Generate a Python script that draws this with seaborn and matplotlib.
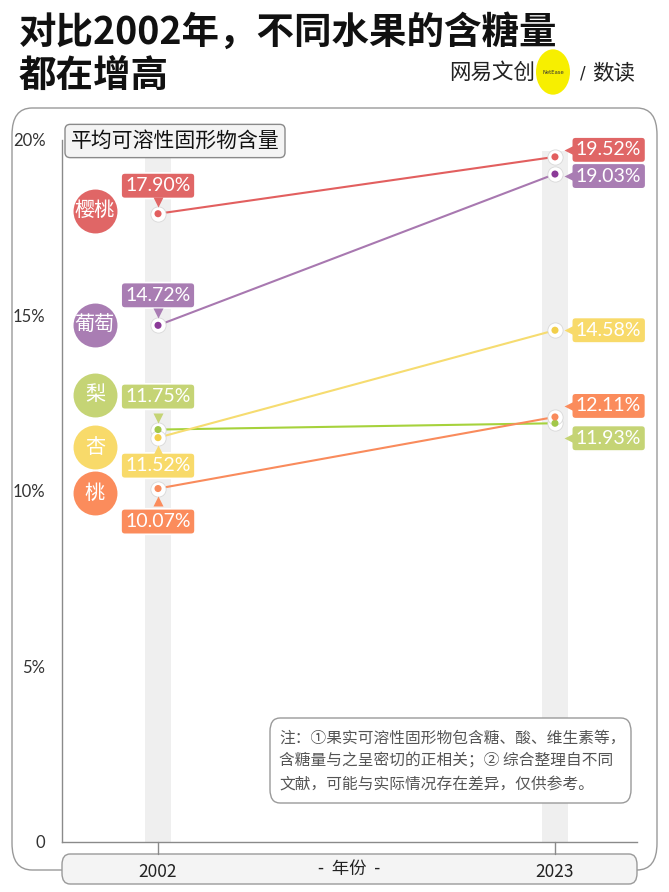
import pandas as pd
import seaborn as sns
import matplotlib.pyplot as plt
from matplotlib.patches import FancyBboxPatch, Circle
from matplotlib.transforms import offset_copy

# data
fruits = ['樱桃', '葡萄', '梨', '杏', '桃']
years = [2002, 2023]
v2002 = [17.90, 14.72, 11.75, 11.52, 10.07]
v2023 = [19.52, 19.03, 11.93, 14.58, 12.11]
colors = ['#e06666', '#a97db3', '#c5d475', '#f8da6a', '#fb8c5c']
line_colors = ['#e25f5f', '#a878b0', '#a6d23c', '#f6dc70', '#f98b5c']
dot_colors = ['#e25f5f', '#8b3a98', '#a2c84a', '#f2cf4a', '#f98b5c']
yticks = [0, 5, 10, 15, 20]
ytick_labels = ['0', '5%', '10%', '15%', '20%']

# layout of labels (pixel offsets / badge heights)
lab2002_dy = [28, 30, 33, -28, -33]
lab2023_dy = [7, -2, -15, 0, 11]
badge_y = [17.98, 14.73, 12.74, 11.25, 9.94]

df = pd.DataFrame({
    'fruit': fruits * 2,
    'year': [2002] * 5 + [2023] * 5,
    'value': v2002 + v2023,
})

sns.set_theme(style='white')
plt.rcParams['font.family'] = ['Noto Sans CJK SC', 'DejaVu Sans']

W, H = 669, 892
fig = plt.figure(figsize=(6.69, 8.92), dpi=100)


def fx(x):
    return x / W


def fy(y):
    return 1 - y / H


ax = fig.add_axes([fx(62), fy(842), (637 - 62) / W, (842 - 140) / H])
ax.set_xlim(1996.92, 2027.34)
ax.set_ylim(0, 20)
ax.patch.set_alpha(0)

# outer frame
frame = FancyBboxPatch((fx(12), fy(870)), (657 - 12) / W, (870 - 108) / H,
                       boxstyle='round,pad=0,rounding_size=0.03',
                       transform=fig.transFigure, fc='white', ec='#9a9a9a',
                       lw=1, zorder=-5)
fig.patches.append(frame)

# grey bands
for yr in years:
    ax.axvspan(yr - 0.69, yr + 0.69, ymax=0.985, color='#efefef', lw=0, zorder=0)

sns.lineplot(data=df, x='year', y='value', hue='fruit', palette=line_colors,
             hue_order=fruits, legend=False, lw=1.5, ax=ax, zorder=2)
sns.scatterplot(data=df, x='year', y='value', color='white', s=120,
                edgecolor='#d8d8d8', linewidth=0.6, ax=ax, zorder=3)
sns.scatterplot(data=df, x='year', y='value', hue='fruit', palette=dot_colors,
                hue_order=fruits, s=26, linewidth=0, legend=False, ax=ax, zorder=4)

num_font = ['Lato', 'Noto Sans CJK SC', 'DejaVu Sans']
box_style = dict(boxstyle='round,pad=0.22,rounding_size=0.2', ec='white', lw=1.2)
for i, f in enumerate(fruits):
    c = colors[i]
    # 2002 label
    dy = lab2002_dy[i]
    ax.annotate(f'{v2002[i]:.2f}%', (2002, v2002[i]), xytext=(0, dy),
                textcoords='offset pixels', ha='center', va='center',
                fontsize=14, color='white', family=num_font, zorder=6,
                bbox=dict(fc=c, **box_style))
    sgn = 1 if dy > 0 else -1
    tr = offset_copy(ax.transData, fig=fig, x=0, y=sgn * 12, units='dots')
    ax.plot([2002], [v2002[i]], marker='v' if dy > 0 else '^', ms=7,
            color=c, mec='none', transform=tr, zorder=7)
    # 2023 label
    dy = lab2023_dy[i]
    ax.annotate(f'{v2023[i]:.2f}%', (2023, v2023[i]), xytext=(21, dy),
                textcoords='offset pixels', ha='left', va='center',
                fontsize=14, color='white', family=num_font, zorder=6,
                bbox=dict(fc=c, **box_style))
    tr = offset_copy(ax.transData, fig=fig, x=14, y=dy, units='dots')
    ax.plot([2023], [v2023[i]], marker='<', ms=7, color=c, mec='none',
            transform=tr, zorder=7)
    # badge
    ax.scatter([1998.66], [badge_y[i]], s=1000, color=c, lw=0, zorder=5,
               clip_on=False)
    ax.text(1998.66, badge_y[i], f, ha='center', va='center', color='white',
            fontsize=14.5, zorder=6)

# axes styling
for s in ['top', 'right']:
    ax.spines[s].set_visible(False)
ax.spines['left'].set_color('#8a8a8a')
ax.spines['bottom'].set_color('#8a8a8a')
ax.spines['left'].set_linewidth(1)
ax.spines['bottom'].set_linewidth(1)
ax.set_yticks(yticks)
ax.set_yticklabels(ytick_labels, family=num_font, fontsize=12, color='#333333')
ax.tick_params(axis='y', direction='out', length=6, width=1, color='#8a8a8a', pad=6)
ax.set_xticks(years)
ax.set_xticklabels([str(y) for y in years], fontsize=12.5, color='#222222',
                   fontweight='medium')
ax.tick_params(axis='x', direction='in', length=7, width=2, color='#222222', pad=15)
for yr in years:
    ax.plot([yr, yr], [0, -0.34], color='#8a8a8a', lw=1, clip_on=False, zorder=1)
ax.set_xlabel('-  年份  -', fontsize=12.5, color='#222222')
ax.xaxis.set_label_coords(0.5, -0.0385)
ax.xaxis.label.set_va('center')
ax.set_ylabel('')

# bottom x box
xbox = FancyBboxPatch((fx(62), fy(884)), (637 - 62) / W, (884 - 854) / H,
                      boxstyle='round,pad=0,rounding_size=0.012',
                      transform=fig.transFigure, fc='#f4f4f4', ec='#9a9a9a',
                      lw=1, zorder=-1)
fig.patches.append(xbox)

# legend box
fig.text(fx(175), fy(141), '平均可溶性固形物含量', ha='center', va='center',
         fontsize=15, color='#111111',
         bbox=dict(boxstyle='round,pad=0.27,rounding_size=0.25', fc='#f4f4f4',
                   ec='#8a8a8a', lw=1))

# note box
note = ('注：①果实可溶性固形物包含糖、酸、维生素等，\n'
        '含糖量与之呈密切的正相关；② 综合整理自不同\n'
        '文献，可能与实际情况存在差异，仅供参考。')
nbox = FancyBboxPatch((fx(270), fy(803)), (631 - 270) / W, (803 - 718) / H,
                      boxstyle='round,pad=0,rounding_size=0.015',
                      transform=fig.transFigure, fc='white', ec='#9a9a9a',
                      lw=1, zorder=5)
fig.patches.append(nbox)
fig.text(fx(279), fy(761), note, ha='left', va='center', fontsize=11.3,
         color='#555555', linespacing=1.45, zorder=6)

# title
fig.text(fx(19), fy(32), '对比2002年，不同水果的含糖量', ha='left',
         va='center', fontsize=27, fontweight='black', color='#111111')
fig.text(fx(19), fy(75), '都在增高', ha='left',
         va='center', fontsize=27, fontweight='black', color='#111111')

# logo
fig.text(fx(449), fy(73), '网易文创', ha='left', va='center', fontsize=15.5,
         fontweight='light', color='#222222')
fig.patches.append(Circle((fx(553), fy(72)), 17 / W, transform=fig.transFigure,
                          fc='#f7ef00', ec='none', zorder=1))
fig.text(fx(553), fy(72), 'NetEase', ha='center', va='center', fontsize=3.8,
         color='#333333', zorder=2, family='DejaVu Sans')
fig.text(fx(580), fy(73), '/', ha='left', va='center', fontsize=12,
         color='#222222', family='DejaVu Sans')
fig.text(fx(592), fy(73), '数读', ha='left', va='center', fontsize=15.5,
         color='#222222')

fig.savefig('out.png', dpi=100)
